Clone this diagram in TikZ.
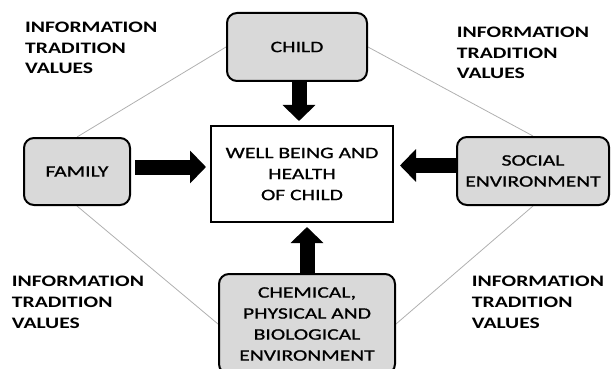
\documentclass[tikz,border=0pt]{standalone}
\usepackage{fontspec}
\setmainfont{Carlito}[FakeStretch=1.35]
\newfontfamily\boxfont{Carlito}[FakeStretch=1.35,FakeBold=0.9]
\usetikzlibrary{arrows.meta,backgrounds}
\definecolor{boxgray}{HTML}{D9D9D9}
\definecolor{linegray}{HTML}{B0B0B0}
\tikzset{
  rbox/.style={draw=black, line width=2pt, fill=boxgray, rounded corners=10pt,
    align=center, font=\boxfont\fontsize{16}{21}\selectfont, inner sep=0pt},
  wbox/.style={draw=black, line width=2pt, fill=white, align=center,
    font=\boxfont\fontsize{16}{21}\selectfont, inner sep=0pt},
  lbl/.style={anchor=north west, align=left, inner sep=0pt,
    font=\bfseries\fontsize{16}{20.8}\selectfont},
  bigarrow/.style={line width=15pt, -{Triangle[length=16pt,width=32pt]}},
  thinline/.style={draw=linegray, line width=0.8pt}
}
\begin{document}
\begin{tikzpicture}[x=1pt,y=-1pt]
\useasboundingbox (0,0) rectangle (611,369);
\clip (0,0) rectangle (611,369);
% boxes
\node[rbox, minimum width=140pt, minimum height=68pt] (child) at (297,47) {CHILD};
\node[rbox, minimum width=106pt, minimum height=67pt] (family) at (77,171.5) {FAMILY};
\node[rbox, minimum width=152pt, minimum height=68pt] (social) at (533,171) {SOCIAL\\ENVIRONMENT};
\node[rbox, minimum width=176pt, minimum height=100pt] (bottom) at (307,324) {CHEMICAL,\\PHYSICAL AND\\BIOLOGICAL\\ENVIRONMENT};
\node[wbox, minimum width=182pt, minimum height=96pt] (wb) at (302,174) {WELL BEING AND\\HEALTH\\OF CHILD};
% labels
\node[lbl] (tl) at (25,21.7) {INFORMATION\\TRADITION\\VALUES};
\node[lbl] (tr) at (456.7,26.7) {INFORMATION\\TRADITION\\VALUES};
\node[lbl] (bl) at (11.7,276) {INFORMATION\\TRADITION\\VALUES};
\node[lbl] (br) at (471.7,276) {INFORMATION\\TRADITION\\VALUES};
% gray lines
\begin{scope}[on background layer]
\draw[thinline] (child.west) -- (family.north);
\draw[thinline] (child.east) -- (social.north);
\draw[thinline] (family.south) -- (bottom.west);
\draw[thinline] (social.south) -- (bottom.east);
\end{scope}
% arrows
\draw[bigarrow, shorten >=4pt] ([xshift=2pt]child.south) -- ([xshift=2pt]child.south |- wb.north);
\draw[bigarrow, shorten <=4pt, shorten >=4pt] ([yshift=4.5pt]family.east) -- ([yshift=4.5pt]family.east -| wb.west);
\draw[bigarrow, shorten >=6pt] ([yshift=5.5pt]social.west) -- ([yshift=5.5pt]social.west -| wb.east);
\draw[bigarrow, shorten >=4pt] (bottom.north) -- (bottom.north |- wb.south);
\end{tikzpicture}
\end{document}
